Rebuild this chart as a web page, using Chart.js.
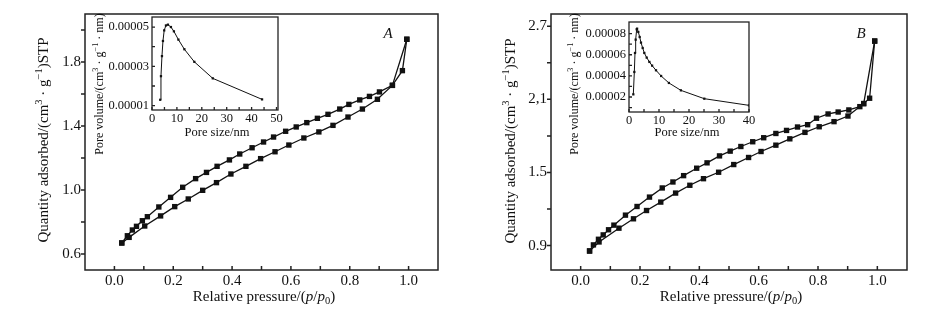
<!DOCTYPE html>
<html>
<head>
<meta charset="utf-8">
<script src="https://cdn.jsdelivr.net/npm/chart.js"></script>
<style>
  body { margin: 0; background: #fff; }
  #wrap { position: relative; width: 945px; height: 325px; }
  canvas { position: absolute; top: 0; }
</style>
</head>
<body>
<div id="wrap">
  <canvas id="mainA" width="470" height="325" style="left:0"></canvas>
  <canvas id="insetA" width="470" height="325" style="left:0"></canvas>
  <canvas id="mainB" width="470" height="325" style="left:475px"></canvas>
  <canvas id="insetB" width="470" height="325" style="left:475px"></canvas>
</div>
<script>
// isotherm A (adsorption / desorption)
var adsA_x = [0.025, 0.050, 0.103, 0.157, 0.205, 0.251, 0.300, 0.347, 0.396, 0.447, 0.497, 0.546, 0.593, 0.644, 0.695, 0.743, 0.794, 0.843, 0.894, 0.945, 0.979, 0.994];
var adsA_y = [0.669, 0.704, 0.775, 0.838, 0.896, 0.944, 0.998, 1.046, 1.100, 1.148, 1.196, 1.239, 1.281, 1.325, 1.363, 1.404, 1.456, 1.506, 1.567, 1.654, 1.746, 1.942];
var desA_x = [0.994, 0.945, 0.901, 0.867, 0.834, 0.797, 0.766, 0.726, 0.690, 0.654, 0.618, 0.582, 0.541, 0.507, 0.468, 0.426, 0.391, 0.349, 0.313, 0.276, 0.232, 0.191, 0.151, 0.112, 0.095, 0.075, 0.061, 0.044, 0.025];
var desA_y = [1.942, 1.654, 1.613, 1.585, 1.563, 1.535, 1.506, 1.473, 1.448, 1.421, 1.394, 1.367, 1.331, 1.300, 1.264, 1.225, 1.188, 1.148, 1.110, 1.071, 1.017, 0.954, 0.894, 0.833, 0.808, 0.773, 0.750, 0.714, 0.669];

// isotherm B
var adsB_x = [0.030, 0.062, 0.129, 0.178, 0.222, 0.270, 0.320, 0.368, 0.414, 0.465, 0.516, 0.566, 0.608, 0.658, 0.705, 0.756, 0.804, 0.854, 0.901, 0.954, 0.974, 0.991];
var adsB_y = [0.856, 0.930, 1.043, 1.120, 1.188, 1.257, 1.331, 1.395, 1.449, 1.502, 1.565, 1.623, 1.672, 1.724, 1.776, 1.829, 1.875, 1.917, 1.963, 2.065, 2.109, 2.578];
var desB_x = [0.991, 0.954, 0.941, 0.904, 0.868, 0.834, 0.795, 0.765, 0.731, 0.694, 0.658, 0.617, 0.580, 0.540, 0.504, 0.468, 0.426, 0.391, 0.347, 0.311, 0.275, 0.232, 0.190, 0.151, 0.112, 0.094, 0.076, 0.060, 0.043, 0.030];
var desB_y = [2.578, 2.065, 2.040, 2.013, 1.996, 1.980, 1.945, 1.892, 1.873, 1.845, 1.820, 1.785, 1.752, 1.713, 1.675, 1.636, 1.579, 1.535, 1.474, 1.422, 1.373, 1.298, 1.221, 1.150, 1.068, 1.030, 0.988, 0.952, 0.906, 0.856];

// pore size distributions (insets)
var poreA_size = [3.3, 3.6, 4.0, 4.4, 4.9, 5.6, 6.4, 7.6, 8.8, 10.6, 13.0, 17.0, 24.4, 44.2];
var poreA_vol = [0.0000130, 0.0000250, 0.0000352, 0.0000429, 0.0000483, 0.0000508, 0.0000512, 0.0000500, 0.0000478, 0.0000436, 0.0000387, 0.0000323, 0.0000239, 0.0000132];
var poreB_size = [1.44, 1.78, 2.0, 2.22, 2.56, 2.7, 3.1, 3.56, 4.0, 4.56, 5.1, 5.9, 6.8, 7.7, 9.0, 10.7, 13.3, 17.3, 25.1, 40.0];
var poreB_vol = [0.0000225, 0.0000437, 0.0000617, 0.0000743, 0.0000841, 0.0000847, 0.0000816, 0.0000768, 0.0000715, 0.0000664, 0.0000617, 0.0000573, 0.0000532, 0.0000497, 0.0000453, 0.0000399, 0.0000333, 0.0000263, 0.0000184, 0.0000121];

// ticks
var pressTicks = [0, 0.2, 0.4, 0.6, 0.8, 1.0];
var pressMinor = [0.1, 0.3, 0.5, 0.7, 0.9];
var pressLabels = ['0.0', '0.2', '0.4', '0.6', '0.8', '1.0'];
var qA_ticks = [0.6, 1.0, 1.4, 1.8];
var qA_minor = [0.8, 1.2, 1.6, 2.0];
var qA_labels = ['0.6', '1.0', '1.4', '1.8'];
var qB_ticks = [0.9, 1.5, 2.1, 2.7];
var qB_minor = [1.2, 1.8, 2.4];
var qB_labels = ['0.9', '1.5', '2,1', '2.7'];
var sizeA_ticks = [0, 10, 20, 30, 40, 50];
var sizeA_minor = [5, 15, 25, 35, 45];
var sizeA_labels = ['0', '10', '20', '30', '40', '50'];
var volA_ticks = [0.00001, 0.00003, 0.00005];
var volA_minor = [0.00002, 0.00004];
var volA_labels = ['0.00001', '0.00003', '0.00005'];
var sizeB_ticks = [0, 10, 20, 30, 40];
var sizeB_minor = [5, 15, 25, 35];
var sizeB_labels = ['0', '10', '20', '30', '40'];
var volB_ticks = [0.00002, 0.00004, 0.00006, 0.00008];
var volB_minor = [0.00001, 0.00003, 0.00005, 0.00007];
var volB_labels = ['0.00002', '0.00004', '0.00006', '0.00008'];

Chart.defaults.font.family = '"Liberation Serif", "Times New Roman", serif';
Chart.defaults.color = '#111';

function pts(xs, ys) {
  return xs.map(function (x, i) { return { x: x, y: ys[i] }; });
}

// text with ^{sup}, _{sub} and *italic* parts
function drawRich(ctx, item) {
  var re = /(\^\{[^}]*\}|_\{[^}]*\}|\*[^*]*\*|[^\^_*]+)/g;
  var parts = [], m, total = 0;
  while ((m = re.exec(item.text)) !== null) {
    var s = m[0], p = { t: s, it: false, size: item.size, dy: 0 };
    if (s[0] === '^') { p.t = s.slice(2, -1); p.size = item.size * 0.7; p.dy = -item.size * 0.33; }
    else if (s[0] === '_') { p.t = s.slice(2, -1); p.size = item.size * 0.7; p.dy = item.size * 0.25; }
    else if (s[0] === '*') { p.t = s.slice(1, -1); p.it = true; }
    p.font = (p.it || item.italic ? 'italic ' : '') + p.size + 'px ' + Chart.defaults.font.family;
    ctx.font = p.font;
    p.w = ctx.measureText(p.t).width;
    total += p.w;
    parts.push(p);
  }
  ctx.save();
  ctx.translate(item.x, item.y);
  ctx.rotate(item.rot || 0);
  ctx.fillStyle = '#111';
  ctx.textBaseline = 'middle';
  ctx.textAlign = 'left';
  var x = -total / 2;
  parts.forEach(function (p) {
    ctx.font = p.font;
    ctx.fillText(p.t, x, p.dy);
    x += p.w;
  });
  ctx.restore();
}

function framePlugin(cfg) {
  return {
    id: 'frame',
    beforeDraw: function (chart) {
      if (!cfg.fill) return;
      var a = chart.chartArea, ctx = chart.ctx;
      ctx.save();
      ctx.fillStyle = '#fff';
      ctx.fillRect(a.left, a.top, a.right - a.left, a.bottom - a.top);
      ctx.restore();
    },
    afterDraw: function (chart) {
      var a = chart.chartArea, ctx = chart.ctx;
      var sx = chart.scales.x, sy = chart.scales.y;
      ctx.save();
      ctx.strokeStyle = '#222';
      ctx.lineWidth = cfg.lw;
      ctx.beginPath();
      cfg.xTicks.forEach(function (v) {
        var px = sx.getPixelForValue(v);
        var d = cfg.xDir === 'in' ? -cfg.len : cfg.len;
        ctx.moveTo(px, a.bottom);
        ctx.lineTo(px, a.bottom + d);
      });
      cfg.yTicks.forEach(function (v) {
        var py = sy.getPixelForValue(v);
        var d = cfg.yDir === 'in' ? cfg.len : -cfg.len;
        ctx.moveTo(a.left, py);
        ctx.lineTo(a.left + d, py);
      });
      ctx.stroke();
      ctx.strokeRect(a.left, a.top, a.right - a.left, a.bottom - a.top);
      ctx.restore();
      cfg.texts.forEach(function (t) { drawRich(ctx, t); });
    }
  };
}

function axis(min, max, ticks, labels, fontSize, pad, fit) {
  return {
    type: 'linear',
    min: min,
    max: max,
    grid: { display: false, drawTicks: false },
    border: { display: false },
    afterBuildTicks: function (s) { s.ticks = ticks.map(function (v) { return { value: v }; }); },
    afterFit: fit,
    ticks: {
      autoSkip: false,
      maxRotation: 0,
      padding: pad,
      font: { size: fontSize },
      color: '#111',
      callback: function (v, i) { return labels[i]; }
    }
  };
}

function lineSet(data, r) {
  return {
    data: data,
    showLine: true,
    borderColor: '#111',
    borderWidth: r > 2 ? 1.3 : 1,
    backgroundColor: '#111',
    pointStyle: 'rect',
    pointRadius: r,
    pointBorderWidth: 0,
    pointBackgroundColor: '#111',
    tension: 0
  };
}

function mainChart(id, ads, des, yMin, yMax, yTicks, yMinor, yLabels, yWidth, padRight, texts) {
  return new Chart(document.getElementById(id), {
    type: 'scatter',
    data: { datasets: [lineSet(ads, 3.8), lineSet(des, 3.8)] },
    options: {
      animation: false,
      responsive: false,
      layout: { padding: { left: 0, top: 14, right: padRight, bottom: 0 } },
      plugins: { legend: { display: false }, tooltip: { enabled: false } },
      scales: {
        x: axis(-0.1, 1.1, pressTicks, pressLabels, 15, 2, function (s) { s.height = 55; }),
        y: axis(yMin, yMax, yTicks, yLabels, 15, 4, function (s) { s.width = yWidth; })
      }
    },
    plugins: [framePlugin({
      lw: 1.5, len: 4, xDir: 'in', yDir: 'out',
      xTicks: pressTicks.concat(pressMinor),
      yTicks: yTicks.concat(yMinor),
      texts: texts
    })]
  });
}

function insetChart(id, data, xMax, xTicks, xMinor, xLabels, yMin, yMax, yTicks, yMinor, yLabels, yWidth, top, padRight, padBottom, texts) {
  return new Chart(document.getElementById(id), {
    type: 'scatter',
    data: { datasets: [lineSet(data, 1.6)] },
    options: {
      animation: false,
      responsive: false,
      layout: { padding: { left: 0, top: top, right: padRight, bottom: padBottom } },
      plugins: { legend: { display: false }, tooltip: { enabled: false } },
      scales: {
        x: axis(0, xMax, xTicks, xLabels, 12.5, 1, function (s) { s.height = 20; }),
        y: axis(yMin, yMax, yTicks, yLabels, 12.5, 3, function (s) { s.width = yWidth; })
      }
    },
    plugins: [framePlugin({
      lw: 1.3, len: 3, xDir: 'in', yDir: 'in', fill: true,
      xTicks: xTicks.concat(xMinor),
      yTicks: yTicks.concat(yMinor),
      texts: texts
    })]
  });
}

var yTitle = 'Quantity adsorbed/(cm^{3} · g^{−1})STP';
var xTitle = 'Relative pressure/(*p*/*p*_{0})';
var poreY = 'Pore volume/(cm^{3} · g^{−1} · nm)';
var poreX = 'Pore size/nm';

mainChart('mainA', pts(adsA_x, adsA_y), pts(desA_x, desA_y), 0.5, 2.1, qA_ticks, qA_minor, qA_labels, 85, 32, [
  { text: xTitle, x: 264, y: 297, size: 15 },
  { text: yTitle, x: 44, y: 140, size: 15, rot: -Math.PI / 2 },
  { text: 'A', x: 388, y: 34, size: 15, italic: true }
]);
mainChart('mainB', pts(adsB_x, adsB_y), pts(desB_x, desB_y), 0.7, 2.8, qB_ticks, qB_minor, qB_labels, 76, 38, [
  { text: xTitle, x: 256, y: 297, size: 15 },
  { text: yTitle, x: 36, y: 141, size: 15, rot: -Math.PI / 2 },
  { text: 'B', x: 386, y: 34, size: 15, italic: true }
]);
insetChart('insetA', pts(poreA_size, poreA_vol), 50.6, sizeA_ticks, sizeA_minor, sizeA_labels,
  0.0000078, 0.0000551, volA_ticks, volA_minor, volA_labels, 152, 17, 192, 195, [
  { text: poreX, x: 217, y: 133, size: 12.5 },
  { text: poreY, x: 100, y: 84, size: 12, rot: -Math.PI / 2 }
]);
insetChart('insetB', pts(poreB_size, poreB_vol), 40, sizeB_ticks, sizeB_minor, sizeB_labels,
  0.0000058, 0.000091, volB_ticks, volB_minor, volB_labels, 154, 22, 196, 193, [
  { text: poreX, x: 212, y: 133, size: 12.5 },
  { text: poreY, x: 100, y: 84, size: 12, rot: -Math.PI / 2 }
]);
</script>
</body>
</html>
